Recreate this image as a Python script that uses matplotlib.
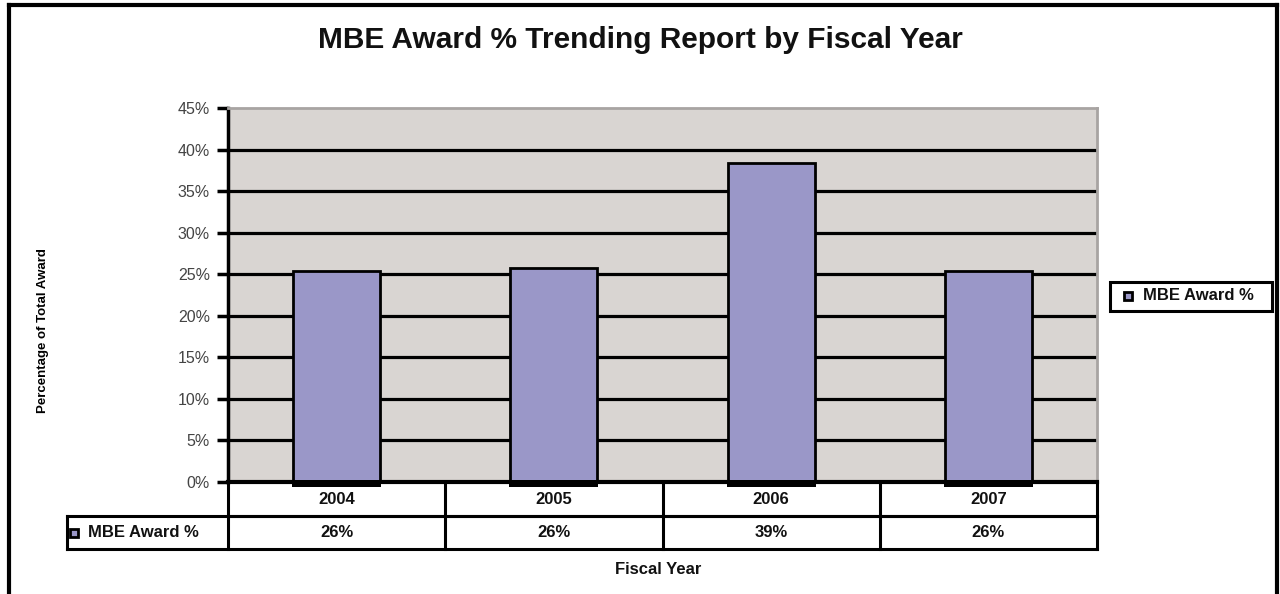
import matplotlib.pyplot as plt
from matplotlib.lines import Line2D
from matplotlib.patches import Rectangle

plt.rcParams['font.family'] = ['Liberation Sans', 'DejaVu Sans']

# Data
years = ["2004", "2005", "2006", "2007"]
mbe_pct = [25.4, 25.8, 38.4, 25.4]
table_labels = ["26%", "26%", "39%", "26%"]
series_name = "MBE Award %"

W, H = 1280, 594
fig = plt.figure(figsize=(W / 100, H / 100), dpi=100)

# plot area in pixels
x0, x1, ytop, ybot = 228, 1097, 108, 482
ax = fig.add_axes([x0 / W, 1 - ybot / H, (x1 - x0) / W, (ybot - ytop) / H])
ax.set_facecolor('#d9d5d2')

xs = list(range(len(years)))
ax.bar(xs, mbe_pct, width=0.4, color='#9a97c8', edgecolor='black', linewidth=2, zorder=3)
# thick dark foot under each bar
ax.bar(xs, [0.9] * len(xs), bottom=-0.6, width=0.41, color='black', zorder=4, clip_on=False)
ax.set_xlim(-0.5, len(years) - 0.5)
ax.set_ylim(0, 45)
ax.set_yticks(range(0, 50, 5))
ax.set_yticklabels([f"{v}%" for v in range(0, 50, 5)], fontsize=11.5, color='#444444')
ax.set_xticks([])
ax.tick_params(axis='y', length=8, width=2.5, color='black', pad=5)
for v in range(5, 45, 5):
    ax.axhline(v, color='black', lw=2.3, zorder=2)
ax.spines['left'].set_linewidth(2.5)
ax.spines['bottom'].set_linewidth(3)
ax.spines['top'].set_color('#a8a4a2')
ax.spines['top'].set_linewidth(2)
ax.spines['right'].set_color('#a8a4a2')
ax.spines['right'].set_linewidth(2)

# data table below the axis
ah = ybot - ytop
r1 = -34 / ah
r2 = -67 / ah
tleft = (67 - x0) / (x1 - x0)
tr = ax.get_xaxis_transform()
ta = ax.transAxes
lkw = dict(color='black', lw=2.2, clip_on=False)
ax.add_line(Line2D([0, 1], [r1, r1], transform=ta, **lkw))
ax.add_line(Line2D([tleft, 1], [r1, r1], transform=ta, **lkw))
ax.add_line(Line2D([tleft, 1], [r2, r2], transform=ta, **lkw))
ax.add_line(Line2D([tleft, tleft], [r1, r2], transform=ta, **lkw))
for b in [x - 0.5 for x in xs] + [len(years) - 0.5]:
    ax.add_line(Line2D([b, b], [0, r2], transform=tr, **lkw))
for x, yr, lab in zip(xs, years, table_labels):
    ax.text(x, r1 / 2, yr, transform=tr, ha='center', va='center',
            fontsize=12, fontweight='bold', color='#111111')
    ax.text(x, (r1 + r2) / 2, lab, transform=tr, ha='center', va='center',
            fontsize=12, fontweight='bold', color='#111111')
ax.text((88 - x0) / (x1 - x0), (r1 + r2) / 2, series_name, transform=ta, ha='left',
        va='center', fontsize=12, fontweight='bold', color='#111111')
fig.add_artist(Rectangle((70 / W, 1 - 537 / H), 8 / W, 8 / H,
                         transform=fig.transFigure, facecolor='#9a97c8',
                         edgecolor='black', lw=2))

# titles
fig.text(640 / W, 1 - 40 / H, "MBE Award % Trending Report by Fiscal Year",
         ha='center', va='center', fontsize=21.5, fontweight='bold', color='#111111')
fig.text(658 / W, 1 - 570 / H, "Fiscal Year", ha='center', va='center',
         fontsize=12, fontweight='bold', color='#111111')
fig.text(43 / W, 1 - 331 / H, "Percentage of Total Award", rotation=90,
         ha='center', va='center', fontsize=9.5, fontweight='bold')

# legend box
fig.add_artist(Rectangle((1110 / W, 1 - 311 / H), 162 / W, 29 / H,
                         transform=fig.transFigure, facecolor='white',
                         edgecolor='black', lw=2.2))
fig.add_artist(Rectangle((1124 / W, 1 - 300 / H), 8 / W, 8 / H,
                         transform=fig.transFigure, facecolor='#9a97c8',
                         edgecolor='black', lw=2))
fig.text(1143 / W, 1 - 296 / H, series_name, ha='left', va='center',
         fontsize=12, fontweight='bold', color='#111111')

# outer chart border (bottom edge cut off)
bkw = dict(color='black', lw=3, transform=fig.transFigure)
fig.add_artist(Line2D([9 / W, 9 / W], [0, 1 - 5 / H], **bkw))
fig.add_artist(Line2D([9 / W, 1277 / W], [1 - 5 / H, 1 - 5 / H], **bkw))
fig.add_artist(Line2D([1277 / W, 1277 / W], [0, 1 - 5 / H], **bkw))

plt.savefig("out.png", dpi=100)
